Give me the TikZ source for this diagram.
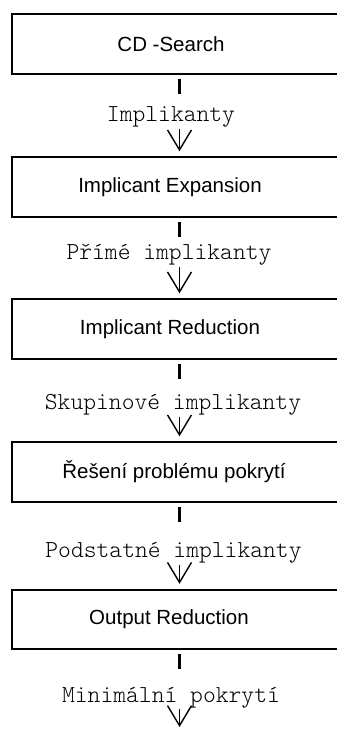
\documentclass[tikz,border=0pt]{standalone}
\usepackage{fontspec}
\setmainfont{Liberation Sans}
\newfontfamily\monof{Latin Modern Mono Light}
\usetikzlibrary{arrows.meta}
\tikzset{
  box/.style={minimum width=348pt, minimum height=59pt, inner sep=0pt,
    font=\fontsize{20.5}{24}\selectfont},
  frame/.style={line width=2pt, line join=miter},
  lab/.style={anchor=base, inner sep=0pt, font=\monof\fontsize{24.4}{28}\selectfont},
  stub/.style={line width=2.4pt},
  arr/.style={line width=1.4pt, -{Straight Barb[length=20pt,width=24pt,line width=1.4pt]}, shorten >=6pt}
}
\begin{document}
\begin{tikzpicture}[x=1pt,y=1pt]
\useasboundingbox (0,0) rectangle (337,729);
\clip (0,0) rectangle (337,729);
\coordinate (sx) at (179.5,0);
\node[box] (b1) at (186,729-44) {\hspace*{-30pt}CD -Search};
\node[box] (b2) at (186,729-187) {\hspace*{-32pt}Implicant Expansion};
\node[box] (b3) at (186,729-329) {\hspace*{-32pt}Implicant Reduction};
\node[box] (b4) at (186,729-472) {\hspace*{-24pt}Řešení problému pokrytí};
\node[box] (b5) at (186,729-619.5) {\hspace*{-34pt}Output Reduction};
\foreach \b in {b1,b2,b3,b4,b5}{
  \draw[frame] (\b.north east) -- (\b.north west) -- (\b.south west) -- (\b.south east);
}
\node[lab] (l1) at (171,729-122) {Implikanty};
\node[lab] (l2) at (169,729-260) {Přímé implikanty};
\node[lab] (l3) at (173,729-410) {Skupinové implikanty};
\node[lab] (l4) at (173.5,729-558) {Podstatné implikanty};
\node[lab] (l5) at (171,729-702) {Minimální pokrytí};
\coordinate (end) at (179.5,729-727);
\foreach \b/\l in {b1/l1,b2/l2,b3/l3,b4/l4,b5/l5}{
  \draw[stub] (\b.south -| sx) ++(0,-5) -- ++(0,-15);
}
\foreach \l/\b in {l1/b2,l2/b3,l3/b4,l4/b5}{
  \draw[arr] (\l.base -| sx) ++(0,-7) -- (\b.north -| sx);
}
\draw[arr, shorten >=0pt] (l5.base -| sx) ++(0,-7) -- (end);
\end{tikzpicture}
\end{document}
